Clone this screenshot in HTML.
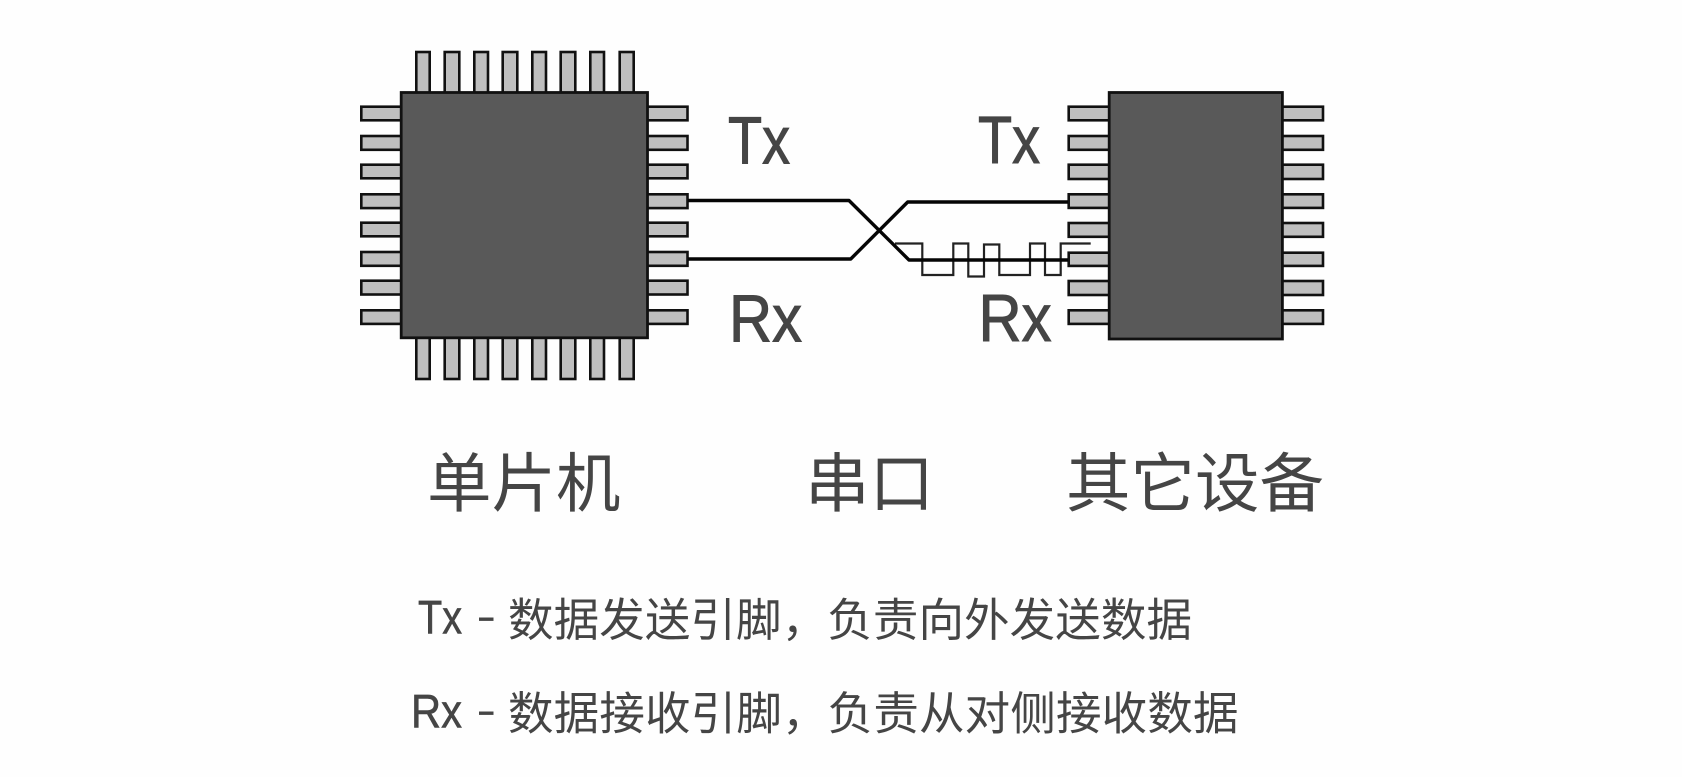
<!DOCTYPE html>
<html><head><meta charset="utf-8"><style>
html,body{margin:0;padding:0;background:#fefefe;width:1682px;height:777px;overflow:hidden}
svg{display:block}
text{fill:#454545;font-family:"Liberation Sans","Noto Sans CJK SC",sans-serif}
.l{stroke:#454545;stroke-width:1}
.p{fill:#bfbfbf;stroke:#111;stroke-width:2.6}
.b{fill:#595959;stroke:#111;stroke-width:2.8}
.w{fill:none;stroke:#050505;stroke-width:3.4;stroke-linejoin:round}
</style></head><body>
<svg width="1682" height="777" viewBox="0 0 1682 777" xmlns="http://www.w3.org/2000/svg">
<g>
<rect class="p" x="416.3" y="52" width="13.4" height="42"/><rect class="p" x="444.7" y="52" width="14.6" height="42"/><rect class="p" x="474.3" y="52" width="13.7" height="42"/><rect class="p" x="502.7" y="52" width="14.6" height="42"/><rect class="p" x="532.3" y="52" width="13.7" height="42"/><rect class="p" x="560.7" y="52" width="14.6" height="42"/><rect class="p" x="590.3" y="52" width="13.7" height="42"/><rect class="p" x="619.7" y="52" width="14" height="42"/>
<rect class="p" x="416.3" y="337" width="13.4" height="42"/><rect class="p" x="444.7" y="337" width="14.6" height="42"/><rect class="p" x="474.3" y="337" width="13.7" height="42"/><rect class="p" x="502.7" y="337" width="14.6" height="42"/><rect class="p" x="532.3" y="337" width="13.7" height="42"/><rect class="p" x="560.7" y="337" width="14.6" height="42"/><rect class="p" x="590.3" y="337" width="13.7" height="42"/><rect class="p" x="619.7" y="337" width="14" height="42"/>
<rect class="p" x="361.3" y="106.7" width="41" height="13.6"/><rect class="p" x="361.3" y="136" width="41" height="13.8"/><rect class="p" x="361.3" y="164.7" width="41" height="13.6"/><rect class="p" x="361.3" y="194.3" width="41" height="13.8"/><rect class="p" x="361.3" y="222.7" width="41" height="13.6"/><rect class="p" x="361.3" y="252" width="41" height="13.8"/><rect class="p" x="361.3" y="280.7" width="41" height="13.8"/><rect class="p" x="361.3" y="310.3" width="41" height="13.6"/>
<rect class="p" x="646.5" y="106.7" width="41" height="13.6"/><rect class="p" x="646.5" y="136" width="41" height="13.8"/><rect class="p" x="646.5" y="164.7" width="41" height="13.6"/><rect class="p" x="646.5" y="194.3" width="41" height="13.8"/><rect class="p" x="646.5" y="222.7" width="41" height="13.6"/><rect class="p" x="646.5" y="252" width="41" height="13.8"/><rect class="p" x="646.5" y="280.7" width="41" height="13.8"/><rect class="p" x="646.5" y="310.3" width="41" height="13.6"/>
<rect class="p" x="1068.7" y="106.7" width="41" height="13.6"/><rect class="p" x="1068.7" y="136" width="41" height="13.8"/><rect class="p" x="1068.7" y="164.7" width="41" height="14.3"/><rect class="p" x="1068.7" y="194.3" width="41" height="13.6"/><rect class="p" x="1068.7" y="223" width="41" height="13.8"/><rect class="p" x="1068.7" y="252.7" width="41" height="13.2"/><rect class="p" x="1068.7" y="281" width="41" height="14"/><rect class="p" x="1068.7" y="310.3" width="41" height="13.6"/>
<rect class="p" x="1282" y="106.7" width="41" height="13.6"/><rect class="p" x="1282" y="136" width="41" height="13.8"/><rect class="p" x="1282" y="164.7" width="41" height="14.3"/><rect class="p" x="1282" y="194.3" width="41" height="13.6"/><rect class="p" x="1282" y="223" width="41" height="13.8"/><rect class="p" x="1282" y="252.7" width="41" height="13.2"/><rect class="p" x="1282" y="281" width="41" height="14"/><rect class="p" x="1282" y="310.3" width="41" height="13.6"/>
</g>
<rect class="b" x="401.2" y="92.5" width="246.3" height="245.3"/>
<rect class="b" x="1109.2" y="92.5" width="173.2" height="246.5"/>
<path d="M895 243.5H922.3V275H953.3V243.5H968.3V276.5H984V244.5H999.3V275H1030V243.5H1045V275H1060.7V243.5H1090.7" fill="none" stroke="#222" stroke-width="2.2"/>
<path class="w" d="M688 200.5H849L909 260H1068"/>
<path class="w" d="M688 259H850.7L907.7 202H1068"/>
<text class="l" x="728" y="163.5" font-size="67" textLength="62" lengthAdjust="spacingAndGlyphs">Tx</text>
<text class="l" x="978" y="163" font-size="67" textLength="62" lengthAdjust="spacingAndGlyphs">Tx</text>
<text class="l" x="729" y="341.5" font-size="67" textLength="73" lengthAdjust="spacingAndGlyphs">Rx</text>
<text class="l" x="978.5" y="341" font-size="67" textLength="73" lengthAdjust="spacingAndGlyphs">Rx</text>
<text x="427" y="506.5" font-size="64.5">单片机</text>
<text x="805" y="506.5" font-size="64.5">串口</text>
<text x="1066" y="506.5" font-size="64.5">其它设备</text>
<text class="l" style="stroke-width:.6" x="418" y="633.5" font-size="47" textLength="44" lengthAdjust="spacingAndGlyphs">Tx</text>
<rect x="479" y="617.5" width="14.5" height="3.4" fill="#454545"/>
<text x="508" y="636" font-size="45.5" textLength="684" lengthAdjust="spacing">数据发送引脚，负责向外发送数据</text>
<text class="l" style="stroke-width:.6" x="411" y="727.5" font-size="47" textLength="51" lengthAdjust="spacingAndGlyphs">Rx</text>
<rect x="479" y="711.5" width="14.5" height="3.4" fill="#454545"/>
<text x="508" y="729.5" font-size="45.5" textLength="730.5" lengthAdjust="spacing">数据接收引脚，负责从对侧接收数据</text>
</svg>
</body></html>
